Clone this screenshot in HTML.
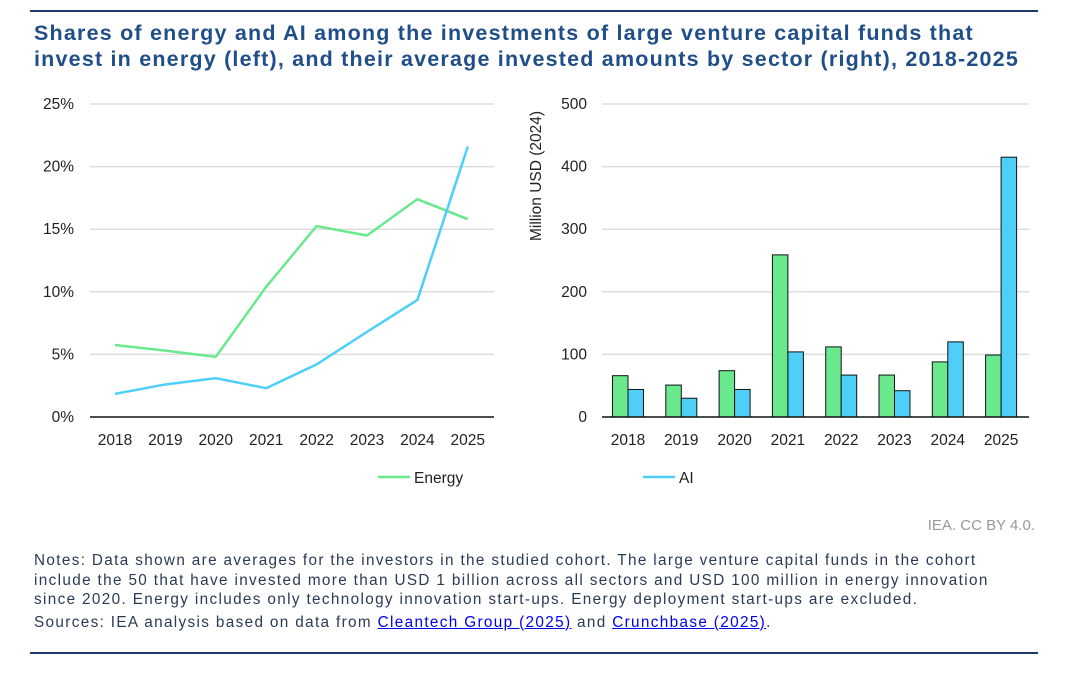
<!DOCTYPE html>
<html><head><meta charset="utf-8"><style>
body{margin:0;width:1073px;height:680px;background:#fff;font-family:"Liberation Sans",Arial,sans-serif;overflow:hidden;position:relative}
.rule{position:absolute;left:30px;width:1008px;height:2px;background:#1f3b6e}
h1{position:absolute;left:34px;top:20px;margin:0;font-size:21.5px;line-height:26px;color:#1f4e89;font-weight:bold;width:1030px;letter-spacing:1.2px;white-space:nowrap}
.notes{position:absolute;left:34px;top:551px;font-size:15.3px;line-height:19.5px;color:#2b3a55;width:1030px;letter-spacing:1.35px;white-space:nowrap}
.notes a{color:#0000ee}
.cc{position:absolute;right:38px;top:517px;font-size:15px;color:#999}
svg text{font-family:"Liberation Sans",Arial,sans-serif;font-size:15.5px;fill:#222}
</style></head><body>
<div class="rule" style="top:10px"></div>
<h1>Shares of energy and AI among the investments of large venture capital funds that<br>invest in energy (left), and their average invested amounts by sector (right), 2018-2025</h1>
<svg id="c" width="1073" height="680" style="position:absolute;left:0;top:0"></svg>
<div class="cc">IEA. CC BY 4.0.</div>
<div class="notes">Notes: Data shown are averages for the investors in the studied cohort. The large venture capital funds in the cohort<br>include the 50 that have invested more than USD 1 billion across all sectors and USD 100 million in energy innovation<br>since 2020. Energy includes only technology innovation start-ups. Energy deployment start-ups are excluded.<div style="margin-top:3px">Sources: IEA analysis based on data from <a href="#">Cleantech Group (2025)</a> and <a href="#">Crunchbase (2025)</a>.</div></div>
<div class="rule" style="top:652px"></div>
<script>
const years=["2018","2019","2020","2021","2022","2023","2024","2025"];
const energyShare=[5.75,5.3,4.8,10.4,15.25,14.5,17.4,15.8];
const aiShare=[1.85,2.6,3.1,2.3,4.2,6.8,9.35,21.6];
const leftTicks=[0,5,10,15,20,25];
const energyAmt=[66,51,74,259,112,67,88,99];
const aiAmt=[44,30,44,104,67,42,120,415];
const rightTicks=[0,100,200,300,400,500];
const NS="http://www.w3.org/2000/svg",svg=document.getElementById('c');
function el(t,a,txt){const e=document.createElementNS(NS,t);for(const k in a)e.setAttribute(k,a[k]);if(txt!=null)e.textContent=txt;svg.appendChild(e);return e;}
const G="#6ae88e",B="#4dcff8";
const ly=v=>417-v/25*313, lx=i=>115+i*50.4;
leftTicks.forEach(t=>{
 if(t>0){const g=el('line',{x1:90,x2:494,y1:ly(t),y2:ly(t),stroke:'#ddd','stroke-width':1.5});
 }
 const tx=el('text',{x:74,y:ly(t)+5,'text-anchor':'end'},t+'%');
 
});
let a=el('line',{x1:90,x2:494,y1:417,y2:417,stroke:'#111','stroke-width':1.5});

years.forEach((y,i)=>{const t=el('text',{x:lx(i),y:445,'text-anchor':'middle'},y);
 });
[[energyShare,G,'energy-line'],[aiShare,B,'ai-line']].forEach(([d,c,n])=>{
 const p=el('polyline',{points:d.map((v,i)=>lx(i)+','+ly(v)).join(' '),fill:'none',stroke:c,'stroke-width':2.5,'stroke-linejoin':'round'});
 });
const ry=v=>417-v/500*313, rx=i=>628+i*53.3, bw=15.5;
rightTicks.forEach(t=>{
 if(t>0){const g=el('line',{x1:602,x2:1029,y1:ry(t),y2:ry(t),stroke:'#ddd','stroke-width':1.5});
 }
 const tx=el('text',{x:587,y:ry(t)+5,'text-anchor':'end'},t);
 
});
const yt=el('text',{transform:'translate(541,176) rotate(-90)','text-anchor':'middle','font-size':'16.5'},'Million USD (2024)');

years.forEach((y,i)=>{
 const b1=el('rect',{x:rx(i)-bw,y:ry(energyAmt[i]),width:bw,height:417-ry(energyAmt[i]),fill:G,stroke:'#111','stroke-width':1});
 
 const b2=el('rect',{x:rx(i),y:ry(aiAmt[i]),width:bw,height:417-ry(aiAmt[i]),fill:B,stroke:'#111','stroke-width':1});
 
 const t=el('text',{x:rx(i),y:445,'text-anchor':'middle'},y);
 
});
a=el('line',{x1:602,x2:1029,y1:417,y2:417,stroke:'#111','stroke-width':1.5});

let l=el('line',{x1:378,x2:410,y1:477,y2:477,stroke:G,'stroke-width':2.5});

l=el('text',{x:414,y:483},'Energy');

l=el('line',{x1:643,x2:675,y1:477,y2:477,stroke:B,'stroke-width':2.5});

l=el('text',{x:679,y:483},'AI');

</script>
</body></html>
